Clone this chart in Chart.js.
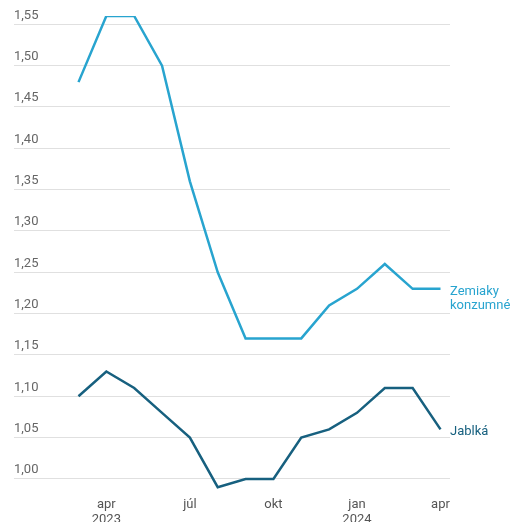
<!DOCTYPE html>
<html>
<head>
<meta charset="utf-8">
<script src="https://cdn.jsdelivr.net/npm/chart.js@4.4.1/dist/chart.umd.min.js"></script>
<style>
  html, body { margin: 0; padding: 0; background: #fff; }
  #wrap { width: 513px; height: 522px; position: relative; }
</style>
</head>
<body>
<div id="wrap"><canvas id="chart"></canvas></div>
<script>
// mesiace marec 2023 – apríl 2024
const months = ['mar 2023', 'apr 2023', 'máj 2023', 'jún 2023', 'júl 2023', 'aug 2023', 'sep 2023',
                'okt 2023', 'nov 2023', 'dec 2023', 'jan 2024', 'feb 2024', 'mar 2024', 'apr 2024'];
const zemiaky = [1.48, 1.56, 1.56, 1.50, 1.36, 1.25, 1.17, 1.17, 1.17, 1.21, 1.23, 1.26, 1.23, 1.23];
const jablka = [1.10, 1.13, 1.11, 1.08, 1.05, 0.99, 1.00, 1.00, 1.05, 1.06, 1.08, 1.11, 1.11, 1.06];
const seriesNames = [['Zemiaky', 'konzumné'], ['Jablká']];
const xTickIdx = [1, 4, 7, 10, 13];
const xTickLabels = [['apr', '2023'], 'júl', 'okt', ['jan', '2024'], 'apr'];
const yTicks = [1.00, 1.05, 1.10, 1.15, 1.20, 1.25, 1.30, 1.35, 1.40, 1.45, 1.50, 1.55];

const colors = ['#28a4cf', '#17607f'];
const font = 'Roboto, "Noto Sans", sans-serif';

const toPoints = arr => arr.map((v, i) => ({ x: i, y: v }));

// popisky sérií vpravo od poslednej hodnoty
const endLabels = {
  id: 'endLabels',
  afterDatasetsDraw(chart) {
    const c = chart.ctx;
    c.save();
    c.font = '13px ' + font;
    c.textAlign = 'left';
    c.textBaseline = 'middle';
    chart.data.datasets.forEach((ds, i) => {
      const meta = chart.getDatasetMeta(i);
      const last = meta.data[meta.data.length - 1];
      c.fillStyle = colors[i];
      const lines = seriesNames[i];
      const y0 = lines.length > 1 ? last.y + 3 : last.y + 2;
      lines.forEach((t, k) => c.fillText(t, chart.chartArea.right, y0 + k * 14));
    });
    c.restore();
  }
};

new Chart(document.getElementById('chart'), {
  type: 'line',
  data: {
    datasets: [
      { label: 'Zemiaky konzumné', data: toPoints(zemiaky), borderColor: colors[0] },
      { label: 'Jablká', data: toPoints(jablka), borderColor: colors[1] }
    ]
  },
  options: {
    responsive: true,
    maintainAspectRatio: false,
    animation: false,
    layout: { padding: { left: 14, right: 63, top: 16, bottom: 0 } },
    elements: {
      line: { borderWidth: 2.5, tension: 0, fill: false },
      point: { radius: 0, hoverRadius: 0 }
    },
    plugins: { legend: { display: false }, tooltip: { enabled: false } },
    scales: {
      x: {
        type: 'linear',
        min: -2.316,
        max: 13.341,
        afterBuildTicks: s => { s.ticks = xTickIdx.map(v => ({ value: v })); },
        afterFit: s => { s.height = 26.5; },
        grid: { display: false, drawTicks: false },
        border: { display: false },
        ticks: {
          padding: 2,
          maxRotation: 0,
          autoSkip: false,
          color: '#555',
          font: { family: font, size: 13, lineHeight: 1.15 },
          callback: v => xTickLabels[xTickIdx.indexOf(v)]
        }
      },
      y: {
        min: 0.98,
        max: 1.56,
        afterBuildTicks: s => { s.ticks = yTicks.map(v => ({ value: v })); },
        afterFit: s => { s.width = 0; },
        border: { display: false },
        grid: { color: '#e0e0e0', lineWidth: 1, drawTicks: false },
        ticks: {
          mirror: true,
          padding: 0,
          labelOffset: -9,
          color: '#666',
          font: { family: font, size: 13 },
          callback: v => v.toFixed(2).replace('.', ',')
        }
      }
    }
  },
  plugins: [endLabels]
});
</script>
</body>
</html>
